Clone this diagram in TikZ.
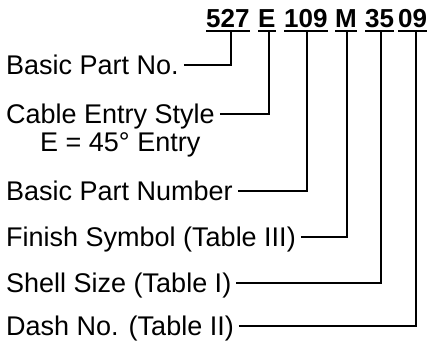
\documentclass[tikz,border=0pt]{standalone}
\usepackage{fontspec}
\setmainfont{Liberation Sans}
\usetikzlibrary{positioning}

\begin{document}
\begin{tikzpicture}[
                x=1pt, y=-1pt,
                font=\fontsize{27}{31}\selectfont,
                code/.style={anchor=base west, font=\fontsize{26}{30}\selectfont\bfseries, inner sep=0pt, text height=19pt, text depth=3.5pt,
                             append after command={(\tikzlastnode.south west) edge[line width=2.4pt] (\tikzlastnode.south east)}},
                label/.style={anchor=base west, inner xsep=5pt, inner ysep=0pt, text height=18pt, text depth=0pt},
                line/.style={draw, line width=2.2pt, line join=miter}
            ]
                \useasboundingbox (0,0) rectangle (432,341);

                % Part number codes
                \node [code] (c527) at (206,27) {527};
                \node [code] (cE) at (258,27) {E};
                \node [code] (c109) at (284,27) {109};
                \node [code] (cM) at (335,27) {M};
                \node [code] (c35) at (365,27) {35};
                \node [code] (c09) at (398,27) {09};

                % Place labels
                \node [label] (L_basic) at (1,74) {Basic Part No.};
                \node [label] (L_entry) at (1,123) {Cable Entry Style};
                \node [anchor=base west, inner sep=0pt] (L_angle) at (40,151) {E = 45° Entry};
                \node [label] (L_number) at (1,200) {Basic Part Number};
                \node [label] (L_finish) at (1,246) {Finish Symbol (Table III)};
                \node [label] (L_shell) at (1,292) {Shell Size (Table I)};
                \node [label] (L_dash) at (1,335) {Dash No. (Table II)};

                % Draw leaders
                \path [line] (L_basic.east) -| ([xshift=3pt]c527.south);
                \path [line] (L_entry.east) -| ([xshift=2pt]cE.south);
                \path [line] (L_number.east) -| ([xshift=1pt]c109.south);
                \path [line] (L_finish.east) -| ([xshift=1pt]cM.south);
                \path [line] (L_shell.east) -| ([xshift=1pt]c35.south);
                \path [line] (L_dash.east) -| ([xshift=3pt]c09.south);

            \end{tikzpicture}
\end{document}
